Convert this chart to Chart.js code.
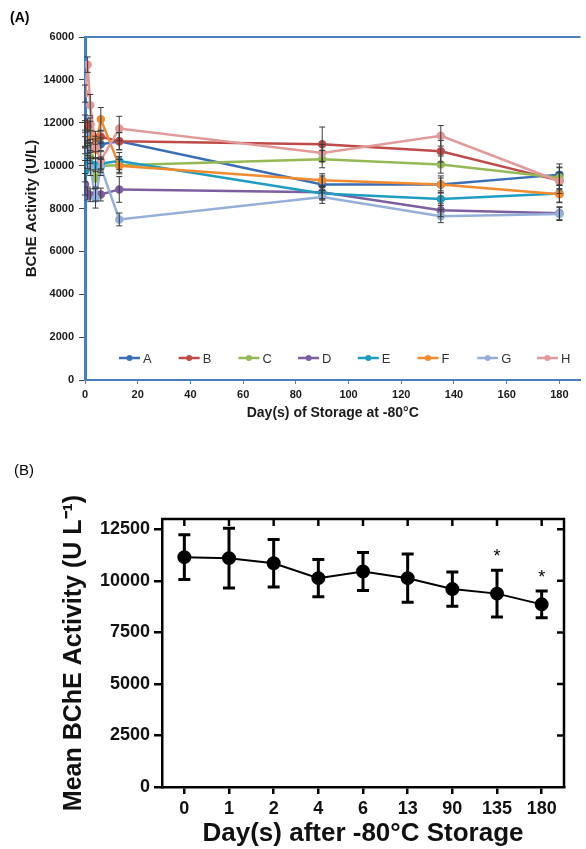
<!DOCTYPE html>
<html>
<head>
<meta charset="utf-8">
<script src="https://cdn.jsdelivr.net/npm/chart.js@4.4.1/dist/chart.umd.min.js"></script>
<style>
  body { margin: 0; background: #fff; font-family: "Liberation Sans", Arial, sans-serif; }
  #pagina { position: relative; width: 586px; height: 849px; overflow: hidden; }
  .painel { position: absolute; left: 0; width: 586px; }
  #painelA { top: 0; height: 440px; }
  #painelB { top: 440px; height: 409px; }
  .rotulo { position: absolute; color: #000; }
  #rotA { left: 10px; top: 9px; font-weight: bold; font-size: 14px; }
  #rotB { left: 14px; top: 461px; font-size: 15px; }
</style>
</head>
<body>
<div id="pagina">
  <div class="painel" id="painelA"><canvas id="graficoA"></canvas></div>
  <div class="painel" id="painelB"><canvas id="graficoB"></canvas></div>
  <div class="rotulo" id="rotA">(A)</div>
  <div class="rotulo" id="rotB">(B)</div>
</div>
<script>
// painel A - cada amostra ao longo dos dias
const diasA = [0, 1, 2, 4, 6, 13, 90, 135, 180];
const nomesA = ["A", "B", "C", "D", "E", "F", "G", "H"];
const coresA = ["#3b6fb5", "#be4b48", "#95b955", "#7d5fa0", "#1f9cc2", "#f28a2e", "#95b0d8", "#e29a98"];

const serieA = [11420, 10870, 10920, 10950, 11000, 11140, 9120, 9120, 9580];
const serieB = [11960, 11880, 11930, 11300, 11350, 11140, 11000, 10670, 9300];
const serieC = [10950, 10640, 10400, 9400, 9990, 10020, 10300, 10050, 9430];
const serieD = [9130, 8700, 8620, 8650, 8650, 8890, 8760, 7920, 7780];
const serieE = [9740, 10170, 10100, 10020, 10100, 10210, 8700, 8440, 8700];
const serieF = [11260, 11400, 11570, 10750, 12160, 9990, 9320, 9120, 8670];
const serieG = [11500, 10640, 9940, 8470, 9940, 7490, 8540, 7640, 7740];
const serieH = [13360, 14710, 12820, 10870, 10250, 11730, 10590, 11390, 9270];

const erroSerieA = [600, 300, 300, 300, 300, 400, 400, 400, 500];
const erroSerieB = [400, 300, 300, 300, 300, 400, 800, 500, 600];
const erroSerieC = [400, 300, 300, 400, 300, 400, 400, 400, 500];
const erroSerieD = [500, 300, 300, 300, 300, 600, 300, 300, 300];
const erroSerieE = [500, 300, 300, 300, 300, 400, 300, 300, 400];
const erroSerieF = [400, 300, 500, 400, 550, 300, 300, 300, 400];
const erroSerieG = [600, 400, 400, 450, 400, 300, 300, 300, 300];
const erroSerieH = [400, 360, 500, 500, 400, 570, 400, 480, 400];

const ticksXA = [0, 20, 40, 60, 80, 100, 120, 140, 160, 180];
const ticksYA = [0, 2000, 4000, 6000, 8000, 10000, 12000, 14000, 16000];
// o rotulo de cima aparece cortado na figura
const rotulosYA = ["0", "2000", "4000", "6000", "8000", "10000", "12000", "14000", "6000"];

// painel B - media geral
const diasB = ["0", "1", "2", "4", "6", "13", "90", "135", "180"];
const mediaB = [11150, 11100, 10850, 10130, 10450, 10130, 9600, 9380, 8860];
const dpB = [1080, 1450, 1150, 900, 920, 1170, 830, 1130, 650];
const marcasB = ["", "", "", "", "", "", "", "*", "*"];
const ticksYB = [0, 2500, 5000, 7500, 10000, 12500];

const fonte = "'Liberation Sans', Arial, sans-serif";
Chart.defaults.font.family = fonte;

const azulEixo = "#4a7ebb";

// barras de erro desenhadas pela escala y
const barrasErro = {
  id: "barrasErro",
  afterDatasetsDraw(chart, args, opts) {
    const ctx = chart.ctx;
    const escY = chart.scales.y;
    ctx.save();
    ctx.strokeStyle = opts.cor;
    ctx.lineWidth = opts.largura;
    chart.data.datasets.forEach(function (ds, i) {
      if (!ds.erros) return;
      const meta = chart.getDatasetMeta(i);
      meta.data.forEach(function (pt, j) {
        const bruto = ds.data[j];
        const v = typeof bruto === "object" ? bruto.y : bruto;
        const topo = escY.getPixelForValue(v + ds.erros[j]);
        const base = escY.getPixelForValue(v - ds.erros[j]);
        ctx.beginPath();
        ctx.moveTo(pt.x, topo);
        ctx.lineTo(pt.x, base);
        ctx.moveTo(pt.x - opts.aba, topo);
        ctx.lineTo(pt.x + opts.aba, topo);
        ctx.moveTo(pt.x - opts.aba, base);
        ctx.lineTo(pt.x + opts.aba, base);
        ctx.stroke();
      });
    });
    ctx.restore();
  }
};

// legenda dentro da area do grafico A
const legendaInterna = {
  id: "legendaInterna",
  afterDraw(chart, args, opts) {
    const ctx = chart.ctx;
    const yl = chart.chartArea.bottom - opts.distancia;
    ctx.save();
    ctx.font = "13px " + fonte;
    ctx.textBaseline = "middle";
    chart.data.datasets.forEach(function (ds, i) {
      const x0 = opts.inicio + i * opts.passo;
      ctx.strokeStyle = ds.borderColor;
      ctx.lineWidth = 2.5;
      ctx.beginPath();
      ctx.moveTo(x0, yl);
      ctx.lineTo(x0 + 21, yl);
      ctx.stroke();
      ctx.fillStyle = ds.borderColor;
      ctx.beginPath();
      ctx.arc(x0 + 10.5, yl, 3, 0, Math.PI * 2);
      ctx.fill();
      ctx.fillStyle = "#333";
      ctx.fillText(ds.label, x0 + 24, yl + 1);
    });
    ctx.restore();
  }
};

// linha azul no topo do grafico A
const molduraA = {
  id: "molduraA",
  afterDraw(chart) {
    const ctx = chart.ctx;
    const area = chart.chartArea;
    ctx.save();
    ctx.strokeStyle = azulEixo;
    ctx.lineWidth = 2;
    ctx.beginPath();
    ctx.moveTo(area.left, area.top);
    ctx.lineTo(area.right, area.top);
    ctx.stroke();
    ctx.restore();
  }
};

// caixa fechada do grafico B, com marcas internas e asteriscos
const molduraB = {
  id: "molduraB",
  afterDraw(chart) {
    const ctx = chart.ctx;
    const area = chart.chartArea;
    const escX = chart.scales.x;
    const escY = chart.scales.y;
    ctx.save();
    ctx.strokeStyle = "#000";
    ctx.lineWidth = 2.5;
    ctx.beginPath();
    ctx.moveTo(area.left - 1, area.top);
    ctx.lineTo(area.right, area.top);
    ctx.lineTo(area.right, area.bottom + 1);
    ctx.stroke();
    ctx.beginPath();
    diasB.forEach(function (d, i) {
      const x = escX.getPixelForValue(i);
      ctx.moveTo(x, area.top);
      ctx.lineTo(x, area.top + 7);
    });
    ticksYB.forEach(function (v) {
      if (v === 0) return;
      const y = escY.getPixelForValue(v);
      ctx.moveTo(area.right, y);
      ctx.lineTo(area.right - 7, y);
    });
    ctx.stroke();
    ctx.fillStyle = "#000";
    ctx.font = "18px " + fonte;
    ctx.textAlign = "center";
    ctx.textBaseline = "middle";
    marcasB.forEach(function (m, i) {
      if (!m) return;
      const x = escX.getPixelForValue(i);
      const y = escY.getPixelForValue(mediaB[i] + dpB[i]) - 13;
      ctx.fillText(m, x, y);
    });
    ctx.restore();
  }
};

let seriesA = [serieA, serieB, serieC, serieD, serieE, serieF, serieG, serieH];
let errosA = [erroSerieA, erroSerieB, erroSerieC, erroSerieD, erroSerieE, erroSerieF, erroSerieG, erroSerieH];

let datasetsA = [];
for (let i = 0; i < nomesA.length; i++) {
  datasetsA.push({
    label: nomesA[i],
    data: diasA.map(function (d, j) { return { x: d, y: seriesA[i][j] }; }),
    erros: errosA[i],
    borderColor: coresA[i],
    backgroundColor: coresA[i],
    borderWidth: 2.5,
    pointRadius: 3,
    pointHoverRadius: 3,
    tension: 0,
    order: nomesA.length - i
  });
}

new Chart(document.getElementById("graficoA"), {
  type: "line",
  data: { datasets: datasetsA },
  plugins: [barrasErro, legendaInterna, molduraA],
  options: {
    responsive: true,
    maintainAspectRatio: false,
    animation: false,
    layout: { padding: { top: 37, right: 0, bottom: 0, left: 0 } },
    plugins: {
      legend: { display: false },
      tooltip: { enabled: false },
      barrasErro: { cor: "#3a3a3a", largura: 1, aba: 3 },
      legendaInterna: { inicio: 119, passo: 59.7, distancia: 22 }
    },
    scales: {
      x: {
        type: "linear",
        min: 0,
        max: 188,
        afterBuildTicks: function (s) { s.ticks = ticksXA.map(function (v) { return { value: v }; }); },
        afterFit: function (s) { s.height = 60; },
        grid: { drawOnChartArea: false, tickLength: 4, color: azulEixo },
        border: { color: azulEixo, width: 2 },
        ticks: { font: { size: 11, weight: "bold" }, color: "#1a1a1a", padding: 4, maxRotation: 0 },
        title: {
          display: true,
          text: "Day(s) of Storage at -80°C",
          font: { size: 14, weight: "bold" },
          color: "#1a1a1a",
          padding: { top: 0, bottom: 18 }
        }
      },
      y: {
        min: 0,
        max: 16000,
        afterBuildTicks: function (s) { s.ticks = ticksYA.map(function (v) { return { value: v }; }); },
        afterFit: function (s) { s.width = 85; },
        grid: { drawOnChartArea: false, tickLength: 6, color: "#444" },
        border: { color: azulEixo, width: 3 },
        ticks: {
          font: { size: 11, weight: "bold" },
          color: "#1a1a1a",
          padding: 5,
          callback: function (v, i) { return rotulosYA[i]; }
        },
        title: {
          display: true,
          text: "BChE Activity (U/L)",
          font: { size: 15, weight: "bold" },
          color: "#1a1a1a",
          padding: { top: 23, bottom: 0 }
        }
      }
    }
  }
});

new Chart(document.getElementById("graficoB"), {
  type: "line",
  data: {
    labels: diasB,
    datasets: [{
      label: "Mean BChE Activity",
      data: mediaB,
      erros: dpB,
      borderColor: "#000",
      backgroundColor: "#000",
      borderWidth: 2,
      pointRadius: 6,
      pointHoverRadius: 6,
      tension: 0
    }]
  },
  plugins: [barrasErro, molduraB],
  options: {
    responsive: true,
    maintainAspectRatio: false,
    animation: false,
    layout: { padding: { top: 79, right: 22, bottom: 0, left: 0 } },
    plugins: {
      legend: { display: false },
      tooltip: { enabled: false },
      barrasErro: { cor: "#000", largura: 3, aba: 6 }
    },
    scales: {
      x: {
        type: "category",
        offset: true,
        afterFit: function (s) { s.height = 62; },
        grid: { offset: false, drawOnChartArea: false, tickLength: 7, color: "#000", lineWidth: 2.5 },
        border: { color: "#000", width: 2.5 },
        ticks: { font: { size: 18, weight: "bold" }, color: "#111", padding: 4, maxRotation: 0 },
        title: {
          display: true,
          text: "Day(s) after -80°C Storage",
          font: { size: 26, weight: "bold" },
          color: "#111",
          padding: { top: 0, bottom: 0 }
        }
      },
      y: {
        min: 0,
        max: 13000,
        afterBuildTicks: function (s) { s.ticks = ticksYB.map(function (v) { return { value: v }; }); },
        afterFit: function (s) { s.width = 162; },
        grid: { drawOnChartArea: false, tickLength: 8, color: "#000", lineWidth: 2.5 },
        border: { color: "#000", width: 2.5 },
        ticks: {
          font: { size: 18, weight: "bold" },
          color: "#111",
          padding: 4,
          callback: function (v) { return String(v); }
        },
        title: {
          display: true,
          text: "Mean BChE Activity (U L⁻¹)",
          font: { size: 25, weight: "bold" },
          color: "#111",
          padding: { top: 59, bottom: 0 }
        }
      }
    }
  }
});
</script>
</body>
</html>
